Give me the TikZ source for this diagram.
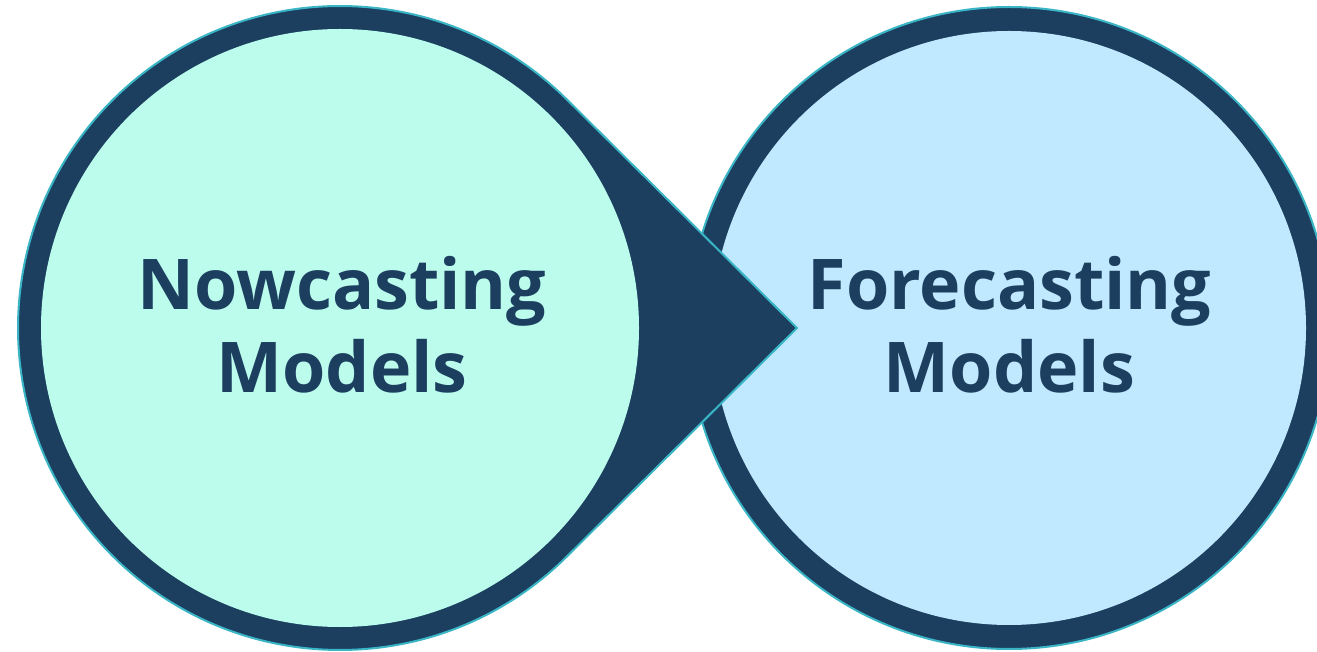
\documentclass[tikz,border=0pt]{standalone}
\usepackage{fontspec}
\setmainfont{Open Sans}
\usetikzlibrary{calc}
\definecolor{navy}{HTML}{1C3F60}
\definecolor{mint}{HTML}{BBFCEC}
\definecolor{sky}{HTML}{C0E8FE}
\definecolor{edgeteal}{HTML}{3AB5C5}
\begin{document}
\begin{tikzpicture}[x=1pt,y=1pt,
  outer/.style={fill=navy, draw=edgeteal, line width=2pt, line join=miter},
  lbl/.style={text=navy, font=\bfseries\fontsize{70}{83}\selectfont, align=center, anchor=base, inner sep=0pt}]
\useasboundingbox (0,0) rectangle (1317,651);
\clip (0,0) rectangle (1317,651);
\coordinate (LC) at (340,323);
\coordinate (RC) at (1009,323);
\coordinate (tip) at (797,323);
\draw[outer] (RC) circle[radius=321];
\fill[sky] (RC) circle[radius=297];
\pgfmathsetmacro\ang{acos(322/457)}
\draw[outer] (tip) -- ($(LC)+(\ang:322)$) arc[start angle=\ang, end angle=360-\ang, radius=322] -- cycle;
\fill[mint] (LC) circle[radius=299];
\node[lbl] (now) at (342,258) {Nowcasting\\Models};
\node[lbl] (fore) at (1009.5,258) {Forecasting\\Models};
\end{tikzpicture}
\end{document}
